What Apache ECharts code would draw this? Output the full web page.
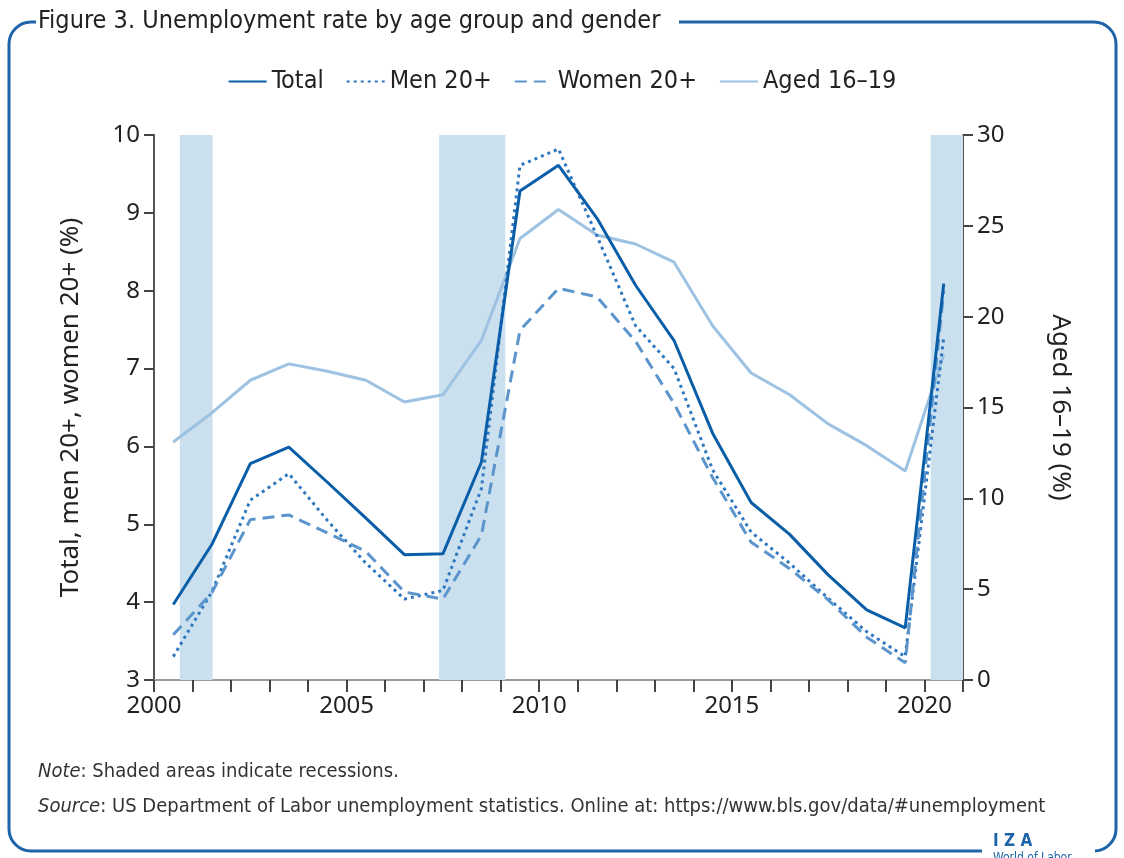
<!DOCTYPE html>
<html>
<head>
<meta charset="utf-8">
<script src="https://cdn.jsdelivr.net/npm/echarts@6/dist/echarts.min.js"></script>
<style>
html,body{margin:0;padding:0;background:#fff;}
#chart{width:1124px;height:858px;}
</style>
</head>
<body>
<div id="chart"></div>
<script>
// ---- data ----
var years = [2000,2001,2002,2003,2004,2005,2006,2007,2008,2009,2010,2011,2012,2013,2014,2015,2016,2017,2018,2019,2020];
var total = [3.97,4.74,5.78,5.99,5.54,5.08,4.61,4.62,5.80,9.28,9.61,8.93,8.07,7.36,6.17,5.28,4.87,4.35,3.90,3.67,8.09];
var men20 = [3.30,4.13,5.31,5.65,5.05,4.50,4.04,4.15,5.46,9.61,9.82,8.70,7.55,7.00,5.70,4.90,4.50,4.05,3.62,3.30,7.40];
var women20 = [3.58,4.12,5.06,5.12,4.89,4.65,4.13,4.04,4.86,7.49,8.03,7.92,7.35,6.55,5.60,4.77,4.43,4.03,3.55,3.22,8.00];
var teens = [13.1,14.7,16.5,17.4,17.0,16.5,15.3,15.7,18.7,24.3,25.9,24.5,24.0,23.0,19.5,16.9,15.7,14.1,12.9,11.5,17.9];
var recessionStart = [2000.67, 2007.40, 2020.16];
var recessionEnd = [2001.52, 2009.12, 2021.0];
var seriesNames = ['Total','Men 20+','Women 20+','Aged 16\u201319'];
var xTickLabels = [2000,2005,2010,2015,2020];

function pts(vals){ return years.map(function(y,i){ return [y+0.5, vals[i]]; }); }

var condensed = '"Liberation Sans Narrow","DejaVu Sans Condensed","Roboto",sans-serif';
var numFont = '"Noto Sans","DejaVu Sans",sans-serif';

var chart = echarts.init(document.getElementById('chart'));
var recAreas = recessionStart.map(function(s,i){ return [{xAxis:s},{xAxis:recessionEnd[i]}]; });

chart.setOption({
  animation:false,
  backgroundColor:'#fff',
  legend:{
    top:64, left:'center',
    itemWidth:38, itemHeight:10, itemGap:22,
    itemStyle:{opacity:0},
    textStyle:{fontFamily:condensed, fontSize:25, color:'#222'},
    data:seriesNames
  },
  grid:{left:154, right:161, top:135, bottom:178},
  xAxis:{
    type:'value', min:2000, max:2021, interval:1,
    axisLine:{lineStyle:{color:'#9a9a9a', width:2}},
    axisTick:{length:12, lineStyle:{color:'#444', width:2}},
    axisLabel:{margin:14, fontFamily:numFont, fontSize:24, color:'#222',
      formatter:function(v){ return xTickLabels.indexOf(v)>=0 ? String(v) : ''; }},
    splitLine:{show:false}
  },
  yAxis:[{
    type:'value', min:3, max:10, interval:1, position:'left',
    name:'Total, men 20+, women 20+ (%)', nameLocation:'middle', nameGap:70, nameRotate:90,
    nameTextStyle:{fontFamily:numFont, fontSize:26, color:'#222'},
    axisLine:{show:true, lineStyle:{color:'#555', width:2}},
    axisTick:{show:true, length:10, lineStyle:{color:'#444', width:2}},
    axisLabel:{margin:14, fontFamily:numFont, fontSize:24, color:'#222'},
    splitLine:{show:false}
  },{
    type:'value', min:0, max:30, interval:5, position:'right',
    name:'Aged 16\u201319 (%)', nameLocation:'middle', nameGap:84, nameRotate:-90,
    nameTextStyle:{fontFamily:numFont, fontSize:26, color:'#222'},
    axisLine:{show:true, lineStyle:{color:'#555', width:2}},
    axisTick:{show:true, length:10, lineStyle:{color:'#444', width:2}},
    axisLabel:{margin:14, fontFamily:numFont, fontSize:24, color:'#222'},
    splitLine:{show:false}
  }],
  series:[
    {name:seriesNames[0], type:'line', yAxisIndex:0, data:pts(total), symbol:'none', z:5,
      lineStyle:{color:'#0a5ea8', width:3}, itemStyle:{color:'#0a5ea8'},
      markArea:{silent:true, itemStyle:{color:'#cbe0ef'}, data:recAreas}},
    {name:seriesNames[1], type:'line', yAxisIndex:0, data:pts(men20), symbol:'none', z:4,
      lineStyle:{color:'#2f78bf', width:3, type:[3,4]}, itemStyle:{color:'#2f78bf'}},
    {name:seriesNames[2], type:'line', yAxisIndex:0, data:pts(women20), symbol:'none', z:4,
      lineStyle:{color:'#5b95cc', width:3, type:[12,7]}, itemStyle:{color:'#5b95cc'}},
    {name:seriesNames[3], type:'line', yAxisIndex:1, data:pts(teens), symbol:'none', z:3,
      lineStyle:{color:'#9dc2e2', width:3}, itemStyle:{color:'#9dc2e2'}}
  ],
  graphic:[
    {type:'rect', silent:true, z:-1, shape:{x:9, y:22, width:1107, height:829, r:22},
      style:{fill:'none', stroke:'#1d63aa', lineWidth:3}},
    {type:'rect', silent:true, z:0, shape:{x:36, y:8, width:643, height:30}, style:{fill:'#fff'}},
    {type:'text', silent:true, z:1, left:38, top:9,
      style:{text:'Figure 3. Unemployment rate by age group and gender', fontFamily:condensed, fontSize:25, fill:'#222'}},
    {type:'text', silent:true, z:1, left:38, top:762,
      style:{rich:{i:{fontStyle:'italic', fontFamily:condensed, fontSize:20, fill:'#333'}, n:{fontFamily:condensed, fontSize:20, fill:'#333'}},
        text:'{i|Note}{n|: Shaded areas indicate recessions.}'}},
    {type:'text', silent:true, z:1, left:38, top:797,
      style:{rich:{i:{fontStyle:'italic', fontFamily:condensed, fontSize:20, fill:'#333'}, n:{fontFamily:condensed, fontSize:20, fill:'#333'}},
        text:'{i|Source}{n|: US Department of Labor unemployment statistics. Online at: https://www.bls.gov/data/#unemployment}'}},
    {type:'rect', silent:true, z:0, shape:{x:982, y:838, width:113, height:20}, style:{fill:'#fff'}},
    {type:'text', silent:true, z:1, left:993, top:833,
      style:{text:'I Z A', fontFamily:condensed, fontSize:17, fontWeight:'bold', fill:'#1d63aa'}},
    {type:'text', silent:true, z:1, left:993, top:852,
      style:{text:'World of Labor', fontFamily:condensed, fontSize:12, fill:'#1d63aa'}}
  ]
});
</script>
</body>
</html>
